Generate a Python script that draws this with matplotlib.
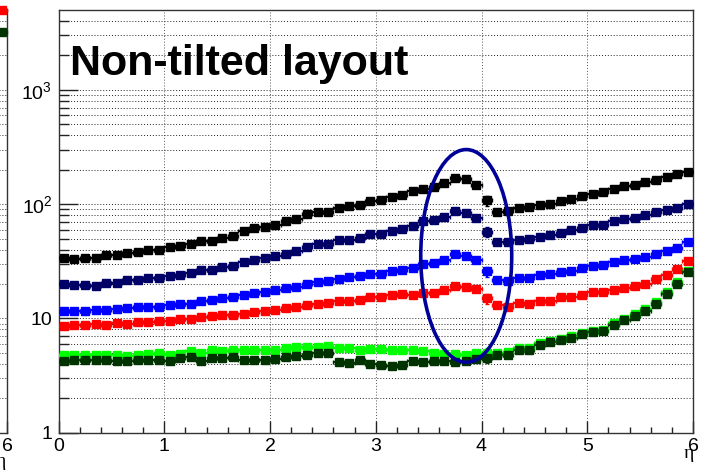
import numpy as np
import matplotlib
matplotlib.use('Agg')
import matplotlib.pyplot as plt
from matplotlib.patches import Ellipse
from matplotlib.ticker import FixedLocator, NullFormatter, MultipleLocator

plt.rcParams['font.family'] = ['Liberation Sans', 'DejaVu Sans']
plt.rcParams['mathtext.fontset'] = 'custom'
plt.rcParams['mathtext.rm'] = 'Liberation Sans'
plt.rcParams['mathtext.it'] = 'Liberation Sans:italic'
plt.rcParams['mathtext.bf'] = 'Liberation Sans:bold'

# ---------------- data ----------------
bin_width = 0.1
n_bins = 60
eta = (np.arange(n_bins) + 0.5) * bin_width

black = [33.8, 33.1, 33.6, 33.8, 36.2, 35.7, 37.7, 38.2, 39.7, 39.7,
         42.2, 43.1, 45.2, 48.0, 47.7, 51.0, 52.4, 58.7, 62.0, 63.7,
         66.3, 70.5, 73.9, 81.7, 86.2, 85.7, 92.9, 96.7, 98.7, 107,
         108, 115, 120, 130, 137, 142, 154, 168, 167, 148,
         108, 85.1, 87.4, 92.3, 93.5, 98.7, 101, 107, 111, 117,
         123, 128, 135, 143, 148, 155, 163, 172, 182, 192]
navy = [19.9, 19.5, 19.5, 19.4, 20.6, 20.6, 21.5, 21.7, 22.6, 22.6,
        23.7, 24.0, 25.2, 26.6, 26.6, 28.0, 28.8, 31.0, 32.7, 33.8,
        35.0, 36.9, 38.7, 42.0, 45.2, 45.2, 48.3, 49.0, 51.0, 54.6,
        54.6, 58.3, 60.8, 65.0, 71.4, 72.4, 77.5, 86.9, 84.0, 76.4,
        57.6, 46.4, 46.4, 49.0, 50.0, 51.7, 53.5, 56.4, 59.1, 62.0,
        65.4, 66.3, 71.0, 73.9, 76.4, 80.1, 85.7, 88.1, 93.0, 100]
blue = [11.6, 11.6, 11.6, 11.8, 11.8, 12.1, 12.4, 12.5, 12.7, 12.7,
        13.2, 13.4, 13.5, 14.2, 14.5, 15.0, 15.3, 16.0, 16.6, 17.1,
        17.6, 18.3, 18.8, 20.0, 21.0, 21.3, 22.1, 22.9, 23.4, 24.6,
        24.6, 26.2, 26.7, 27.8, 30.2, 30.6, 32.7, 36.4, 35.0, 32.5,
        25.8, 21.5, 21.2, 22.7, 22.7, 24.0, 24.5, 25.3, 26.2, 27.5,
        28.6, 29.4, 31.0, 32.5, 33.4, 34.5, 36.9, 38.7, 41.7, 46.4]
red = [8.62, 8.74, 8.74, 8.92, 8.80, 9.04, 8.98, 9.22, 9.22, 9.54,
       9.54, 9.94, 9.87, 10.3, 10.5, 10.7, 10.8, 10.9, 11.4, 11.6,
       11.8, 12.3, 12.6, 13.0, 13.3, 13.6, 14.1, 14.2, 14.6, 15.3,
       15.4, 16.0, 16.5, 16.0, 16.7, 16.8, 17.6, 19.4, 19.0, 18.2,
       15.0, 13.1, 12.7, 13.6, 13.4, 14.3, 14.3, 15.3, 15.4, 16.0,
       16.9, 17.1, 17.7, 18.3, 19.4, 20.1, 22.0, 24.0, 27.3, 31.8]
green = [4.80, 4.80, 4.80, 4.80, 4.77, 4.80, 4.73, 4.83, 4.86, 4.97,
         4.83, 4.93, 5.14, 5.03, 5.24, 5.20, 5.24, 5.24, 5.24, 5.24,
         5.31, 5.49, 5.61, 5.61, 5.61, 5.76, 5.46, 5.46, 5.30, 5.35,
         5.35, 5.31, 5.31, 5.24, 5.17, 5.00, 4.90, 4.90, 4.83, 4.96,
         5.00, 4.96, 5.07, 5.50, 5.50, 6.10, 6.40, 6.62, 6.98, 7.50,
         7.78, 7.98, 9.05, 9.88, 10.9, 12.0, 13.8, 17.0, 20.7, 26.2]
darkgreen = [4.28, 4.34, 4.34, 4.34, 4.34, 4.28, 4.28, 4.34, 4.34, 4.34,
             4.28, 4.52, 4.58, 4.28, 4.46, 4.52, 4.58, 4.34, 4.34, 4.34,
             4.40, 4.58, 4.71, 4.80, 5.03, 4.97, 4.14, 4.06, 4.34, 4.00,
             3.95, 3.87, 3.92, 4.22, 4.17, 4.20, 4.20, 4.17, 4.22, 4.43,
             4.52, 4.74, 4.77, 5.31, 5.31, 5.91, 6.20, 6.41, 6.77, 7.29,
             7.54, 7.74, 8.80, 9.60, 10.6, 11.7, 13.4, 16.5, 20.1, 25.5]
# relative vertical error (only visible at the transition bin)
rel_err = [0.0] * 40 + [0.10] + [0.0] * 19

# remnant of the neighbouring (left) panel: last bin only
left_red_last = 5000
left_dgreen_last = 3200

series = [(black, '#000000'), (navy, '#000066'), (blue, '#0000ff'),
          (red, '#ff0000'), (green, '#00ff00'), (darkgreen, '#003300')]

title = 'Non-tilted layout'
y_major = [1, 10, 100, 1000]
y_major_labels = ['1', '10', r'$10^{2}$', r'$10^{3}$']
x_major = [0, 1, 2, 3, 4, 5, 6]

# ---------------- figure ----------------
W, H = 701, 470
fig = plt.figure(figsize=(W / 100, H / 100), dpi=100)
fig.patch.set_facecolor('white')

ax_l, ax_r, ax_t, ax_b = 58.5, 693.0, 10.0, 432.7
ax = fig.add_axes([ax_l / W, (H - ax_b) / H, (ax_r - ax_l) / W, (ax_b - ax_t) / H])


def style_axes(a, xlabels, show_ylabels):
    a.set_xlim(0, 6)
    a.set_yscale('log')
    a.set_ylim(1, 5000)
    minors = [m * 10 ** d for d in range(0, 4) for m in range(2, 10) if m * 10 ** d < 5000]
    a.yaxis.set_major_locator(FixedLocator(y_major))
    a.yaxis.set_minor_locator(FixedLocator(minors))
    a.yaxis.set_minor_formatter(NullFormatter())
    a.xaxis.set_major_locator(FixedLocator(x_major))
    a.xaxis.set_minor_locator(MultipleLocator(0.2))
    a.set_yticklabels(y_major_labels if show_ylabels else [''] * len(y_major))
    a.set_xticklabels(xlabels)
    a.grid(True, which='both', axis='y', linestyle=(0, (1, 2)), color='#222222', lw=0.7)
    a.grid(True, which='major', axis='x', linestyle=(0, (1, 2)), color='#555555', lw=0.7)
    a.set_axisbelow(True)
    a.tick_params(axis='x', which='major', direction='in', length=8.6, width=1.0,
                  labelsize=14, pad=3.5, top=False, color='#222222')
    a.tick_params(axis='x', which='minor', direction='in', length=4.3, width=1.0,
                  top=False, color='#222222')
    a.tick_params(axis='y', which='major', direction='in', length=13.7, width=1.0,
                  labelsize=14, pad=4.5, right=False, color='#222222',
                  labelleft=show_ylabels)
    a.tick_params(axis='y', which='minor', direction='in', length=7.2, width=1.0,
                  right=False, color='#222222')
    for s in a.spines.values():
        s.set_color('#333333')
        s.set_linewidth(1.0)


style_axes(ax, [str(v) for v in x_major], True)

for vals, col in series:
    v = np.array(vals)
    yerr = v * np.array(rel_err)
    ax.errorbar(eta, v, xerr=bin_width / 2, yerr=yerr, fmt='s', ms=5.6,
                color=col, mec=col, mfc=col, elinewidth=1.5, capsize=1.5,
                capthick=1.0, zorder=3)

ell = Ellipse((0.6426, 0.4182), 0.1434, 0.5033, transform=ax.transAxes,
              fill=False, ec='#000099', lw=2.6, zorder=10)
ax.add_patch(ell)

fig.text(70 / W, 1 - 75 / H, title, fontsize=31, fontweight='bold',
         ha='left', va='baseline', color='black')
fig.text(694 / W, 1 - 458 / H, 'η', fontsize=14, family='Liberation Serif',
         ha='right', va='baseline')

# left neighbour panel remnant
axL = fig.add_axes([(7.0 - (ax_r - ax_l)) / W, (H - ax_b) / H, (ax_r - ax_l) / W, (ax_b - ax_t) / H])
style_axes(axL, [''] * 6 + ['6'], False)
axL.errorbar([eta[-1]], [left_red_last], xerr=bin_width / 2, fmt='s', ms=5.6,
             color='#ff0000', elinewidth=1.5, capsize=1.5, clip_on=False, zorder=3)
axL.errorbar([eta[-1]], [left_dgreen_last], xerr=bin_width / 2, fmt='s', ms=5.6,
             color='#003300', elinewidth=1.5, capsize=1.5, clip_on=False, zorder=3)
fig.text(6 / W, 1 - 466 / H, 'η', fontsize=14, family='Liberation Serif',
         ha='right', va='baseline')

fig.savefig('out.png', dpi=100)
